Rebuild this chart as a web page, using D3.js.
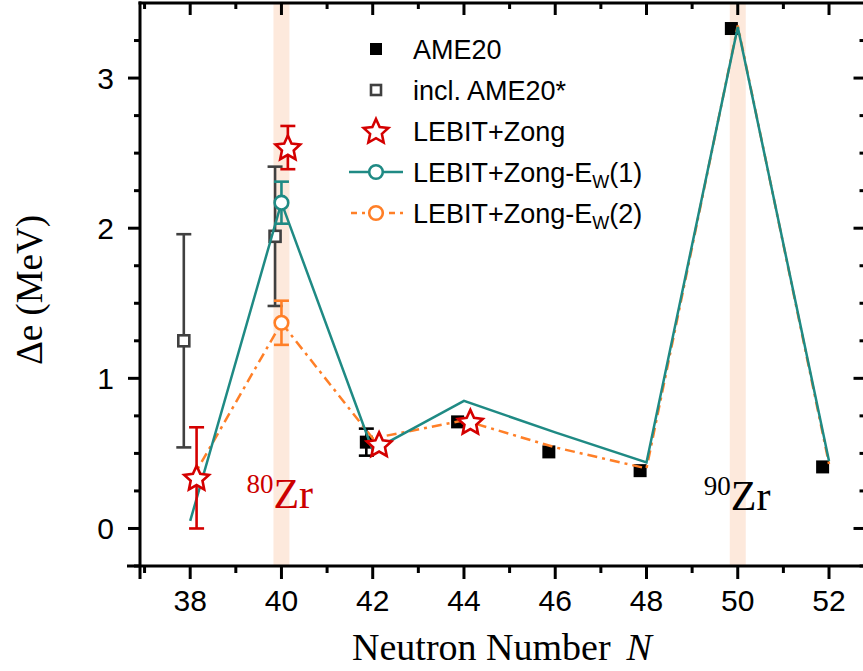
<!DOCTYPE html>
<html><head><meta charset="utf-8">
<script src="https://cdn.jsdelivr.net/npm/d3@7"></script>
<style>
html,body{margin:0;padding:0;background:#fff;}
svg{display:block;}
</style></head>
<body>
<svg id="chart" width="863" height="671"></svg>
<script>
// ---------- data ----------
const xTicks = [38,40,42,44,46,48,50,52];
const yTicks = [0,1,2,3];
const bandN = [40,50];

const ame20N   = [42,44,46,48,50,52];
const ame20    = [0.575,0.71,0.51,0.385,3.33,0.41];
const ame20Err = [0.09,0,0,0,0,0];

const inclN    = [38,40];
const incl     = [1.25,1.946];
const inclErr  = [0.71,0.464];

const starN    = [38,40,42,44];
const star     = [0.337,2.537,0.56,0.71];
const starErr  = [0.337,0.144,0,0];

const ewN      = [38,40,42,44,46,48,50,52];
const ew1      = [0.05,2.17,0.52,0.85,0.64,0.44,3.34,0.45];
const ew2      = [0.31,1.37,0.60,0.72,0.54,0.40,3.35,0.43];
const ewCircleN = [40];
const ew1Err   = [0.14];
const ew2Err   = [0.147];

const legendLabels = ["AME20","incl. AME20*","LEBIT+Zong","LEBIT+Zong-E","LEBIT+Zong-E"];

// ---------- style ----------
const TEAL = "#1f8a84", ORANGE = "#ff7f27", RED = "#d40000", GRAY = "#404040", BAND = "#fde9dc";
const SANS = "Arial, 'Liberation Sans', sans-serif";
const SERIF = "'Times New Roman', 'Liberation Serif', serif";

const svg = d3.select("#chart");
const x = d3.scaleLinear().domain([36.9, 52.8]).range([140, 140 + 15.9*45.63]);
const y = d3.scaleLinear().domain([-0.25, 3.5]).range([566, 3]);
const X0 = x.range()[0], X1 = x.range()[1], Y0 = y.range()[0], Y1 = y.range()[1];
const off = 0.14;

function starPath(cx, cy, R, r){
  const pts = [];
  for(let i=0;i<10;i++){
    const a = -Math.PI/2 + i*Math.PI/5;
    const rr = i%2===0 ? R : r;
    pts.push([cx + rr*Math.cos(a), cy + rr*Math.sin(a)]);
  }
  return "M" + pts.map(p=>p.join(",")).join("L") + "Z";
}

// bands
svg.append("g").selectAll("rect").data(bandN).join("rect")
  .attr("x", d=>x(d-0.175)).attr("width", d=>x(d+0.175)-x(d-0.175))
  .attr("y", Y1).attr("height", Y0-Y1).attr("fill", BAND);

// error bar helper
function errBar(g, cx, v, e, color, cap){
  if(!e) return;
  g.append("line").attr("x1",cx).attr("x2",cx).attr("y1",y(v-e)).attr("y2",y(v+e))
    .attr("stroke",color).attr("stroke-width",2.6);
  [v-e, v+e].forEach(t=>g.append("line").attr("x1",cx-cap/2).attr("x2",cx+cap/2)
    .attr("y1",y(t)).attr("y2",y(t)).attr("stroke",color).attr("stroke-width",2.6));
}

const gm = svg.append("g");
// AME20 squares
ame20N.forEach((n,i)=>{
  const cx = x(n-off);
  errBar(gm, cx, ame20[i], ame20Err[i], "#000", 15);
  gm.append("rect").attr("x",cx-6.5).attr("y",y(ame20[i])-6.5).attr("width",13).attr("height",13).attr("fill","#000");
});
// incl. AME20*
inclN.forEach((n,i)=>{
  const cx = x(n-off);
  errBar(gm, cx, incl[i], inclErr[i], GRAY, 15);
});

// lines
const line = d3.line().x((d,i)=>x(ewN[i])).y(d=>y(d));
svg.append("path").datum(ew2).attr("d", line).attr("fill","none")
  .attr("stroke",ORANGE).attr("stroke-width",2.5).attr("stroke-dasharray","10,5,3,5");
svg.append("path").datum(ew1).attr("d", line).attr("fill","none")
  .attr("stroke",TEAL).attr("stroke-width",2.5);

inclN.forEach((n,i)=>{
  const cx = x(n-off);
  gm.append("rect").attr("x",cx-5.5).attr("y",y(incl[i])-5.5).attr("width",11).attr("height",11)
    .attr("fill","#fff").attr("stroke",GRAY).attr("stroke-width",2.6);
});

// Ew circles with error bars
const gc = svg.append("g");
ewCircleN.forEach((n,i)=>{
  const idx = ewN.indexOf(n);
  errBar(gc, x(n), ew1[idx], ew1Err[i], TEAL, 15);
  errBar(gc, x(n), ew2[idx], ew2Err[i], ORANGE, 15);
  gc.append("circle").attr("cx",x(n)).attr("cy",y(ew1[idx])).attr("r",6.8)
    .attr("fill","#fff").attr("stroke",TEAL).attr("stroke-width",2.6);
  gc.append("circle").attr("cx",x(n)).attr("cy",y(ew2[idx])).attr("r",6.8)
    .attr("fill","#fff").attr("stroke",ORANGE).attr("stroke-width",2.6);
});

// stars
const gs = svg.append("g");
starN.forEach((n,i)=>{
  const cx = x(n+off);
  errBar(gs, cx, star[i], starErr[i], RED, 15);
  gs.append("path").attr("d", starPath(cx, y(star[i])+1, 13, 6.2))
    .attr("fill","#fff").attr("stroke",RED).attr("stroke-width",2.6).attr("stroke-linejoin","miter");
});

// ---------- axes ----------
const ga = svg.append("g").attr("stroke","#000").attr("stroke-width",3);
ga.append("line").attr("x1",X0).attr("x2",X0).attr("y1",Y1-1.5).attr("y2",Y0+13);   // left
ga.append("line").attr("x1",X0-13).attr("x2",X1).attr("y1",Y0).attr("y2",Y0);       // bottom
ga.append("line").attr("x1",X0-1.5).attr("x2",X1).attr("y1",Y1).attr("y2",Y1);       // top
ga.append("line").attr("x1",X1).attr("x2",X1).attr("y1",Y1).attr("y2",Y0);          // right

const xMinor = d3.range(37, 53, 1).filter(v=>v%2===1);
const yMinor = d3.range(-0.25, 3.5, 0.25).filter(v=>Math.abs(v-Math.round(v))>0.01);
// bottom & top ticks
xTicks.forEach(v=>{
  ga.append("line").attr("x1",x(v)).attr("x2",x(v)).attr("y1",Y0).attr("y2",Y0+13);
  ga.append("line").attr("x1",x(v)).attr("x2",x(v)).attr("y1",Y1).attr("y2",Y1+12);
});
xMinor.forEach(v=>{
  ga.append("line").attr("x1",x(v)).attr("x2",x(v)).attr("y1",Y0).attr("y2",Y0+7);
  ga.append("line").attr("x1",x(v)).attr("x2",x(v)).attr("y1",Y1).attr("y2",Y1+6);
});
// left & right ticks
yTicks.forEach(v=>{
  ga.append("line").attr("x1",X0-12).attr("x2",X0).attr("y1",y(v)).attr("y2",y(v));
  ga.append("line").attr("x1",X1-12).attr("x2",X1).attr("y1",y(v)).attr("y2",y(v));
});
yMinor.forEach(v=>{
  ga.append("line").attr("x1",X0-6).attr("x2",X0).attr("y1",y(v)).attr("y2",y(v));
  ga.append("line").attr("x1",X1-6).attr("x2",X1).attr("y1",y(v)).attr("y2",y(v));
});

// tick labels
svg.append("g").selectAll("text").data(xTicks).join("text")
  .attr("x", d=>x(d)).attr("y", 611).attr("text-anchor","middle")
  .attr("font-family",SANS).attr("font-size",30).text(d=>d);
svg.append("g").selectAll("text").data(yTicks).join("text")
  .attr("x", 114).attr("y", d=>y(d)+10.5).attr("text-anchor","end")
  .attr("font-family",SANS).attr("font-size",30).text(d=>d);

// axis titles
const xt = svg.append("text").attr("x", 502).attr("y", 660).attr("text-anchor","middle")
  .attr("font-family",SERIF).attr("font-size",38);
xt.append("tspan").text("Neutron Number");
xt.append("tspan").attr("dx",16).attr("font-style","italic").text("N");

svg.append("text").attr("transform","translate(42,290) rotate(-90)").attr("text-anchor","middle")
  .attr("font-family",SERIF).attr("font-size",37).text("Δe (MeV)");

// annotations
function zrLabel(n, mass, color, dx, v){
  const t = svg.append("text").attr("x", x(n)+dx).attr("y", y(v))
    .attr("font-family",SERIF).attr("fill",color);
  t.append("tspan").attr("font-size",27).attr("dy",-15).text(mass);
  t.append("tspan").attr("font-size",42).attr("dy",15).text("Zr");
}
zrLabel(40, "80", "#cc0000", -35, 0.137);
zrLabel(50, "90", "#000", -34, 0.12);

// ---------- legend ----------
const lg = svg.append("g");
const lx = 376, tx = 413, ly0 = 49, ldy = 41;
const rowY = i => ly0 + i*ldy;
lg.append("rect").attr("x",lx-6).attr("y",rowY(0)-6).attr("width",12).attr("height",12).attr("fill","#000");
lg.append("rect").attr("x",lx-5).attr("y",rowY(1)-5).attr("width",10).attr("height",10)
  .attr("fill","#fff").attr("stroke",GRAY).attr("stroke-width",2.6);
lg.append("path").attr("d",starPath(lx,rowY(2)+1,13,6.2)).attr("fill","#fff").attr("stroke",RED).attr("stroke-width",2.6);
lg.append("line").attr("x1",lx-27).attr("x2",lx+27).attr("y1",rowY(3)).attr("y2",rowY(3)).attr("stroke",TEAL).attr("stroke-width",2.5);
lg.append("circle").attr("cx",lx).attr("cy",rowY(3)).attr("r",6.8).attr("fill","#fff").attr("stroke",TEAL).attr("stroke-width",2.6);
lg.append("line").attr("x1",lx-27).attr("x2",lx+27).attr("y1",rowY(4)).attr("y2",rowY(4)).attr("stroke",ORANGE)
  .attr("stroke-width",2.5).attr("stroke-dasharray","6,5,3,5").attr("stroke-dashoffset",-2);
lg.append("circle").attr("cx",lx).attr("cy",rowY(4)).attr("r",6.8).attr("fill","#fff").attr("stroke",ORANGE).attr("stroke-width",2.6);

legendLabels.forEach((s,i)=>{
  const t = lg.append("text").attr("x",tx).attr("y",rowY(i)+9.7).attr("font-family",SANS).attr("font-size",27);
  t.append("tspan").text(s);
  if(i>=3){
    t.append("tspan").attr("font-size",18).attr("dy",6).text("W");
    t.append("tspan").attr("dy",-6).text(i===3?"(1)":"(2)");
  }
});
</script>
</body></html>
